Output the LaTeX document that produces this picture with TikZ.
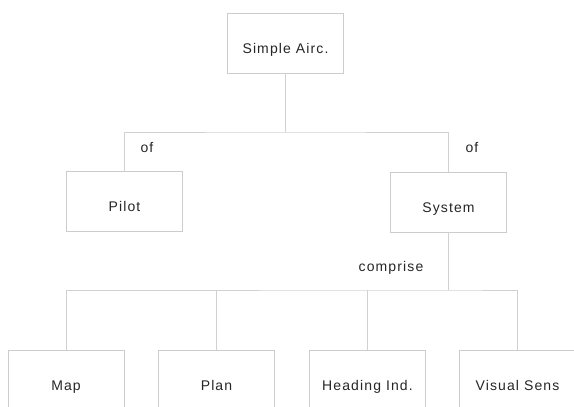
\documentclass[tikz,border=0pt]{standalone}
\usepackage{fontspec}
\setmainfont{Liberation Sans}[LetterSpace=8]
\begin{document}
\begin{tikzpicture}[x=1pt,y=-1pt,
  font=\fontsize{14}{16}\selectfont,
  every node/.style={text=black!85},
  box/.style={draw=black!20, line width=0.9pt, fill=white, minimum width=116pt,
    minimum height=60pt, inner sep=0pt, text height=20pt, text depth=0pt},
  link/.style={draw=black!18, line width=0.9pt},
  tag/.style={inner sep=0pt}]
\clip (0,0) rectangle (574,407);
\fill[white] (0,0) rectangle (574,407);

% nodes
\node[box] (top) at (285.5,43) {Simple Airc.};
\node[box] (pilot) at (124.5,201.5) {Pilot};
\node[box] (system) at (448.5,202) {System};
\node[box] (map) at (66,380) {Map};
\node[box] (plan) at (216.5,380) {Plan};
\node[box] (heading) at (367.5,380) {Heading Ind.};
\node[box] (visual) at (517.5,380) {Visual Sens};

% junction points
\coordinate (j1) at (285.5,132);
\coordinate (j2) at (448.5,290);

% connectors
\draw[link] (top.south) -- (j1);
\draw[link] (pilot.north) |- (j1) -| (system.north);
\draw[link] (system.south) -- (j2);
\draw[link] (map.north) |- (j2) -| (visual.north);
\draw[link] (plan.north) -- (plan.north |- j2);
\draw[link] (heading.north) -- (heading.north |- j2);

% labels
\node[tag] (ofl) at (147,148) {of};
\node[tag] (ofr) at (472,148) {of};
\node[tag] (comp) at (391,268) {comprise};
\end{tikzpicture}
\end{document}
